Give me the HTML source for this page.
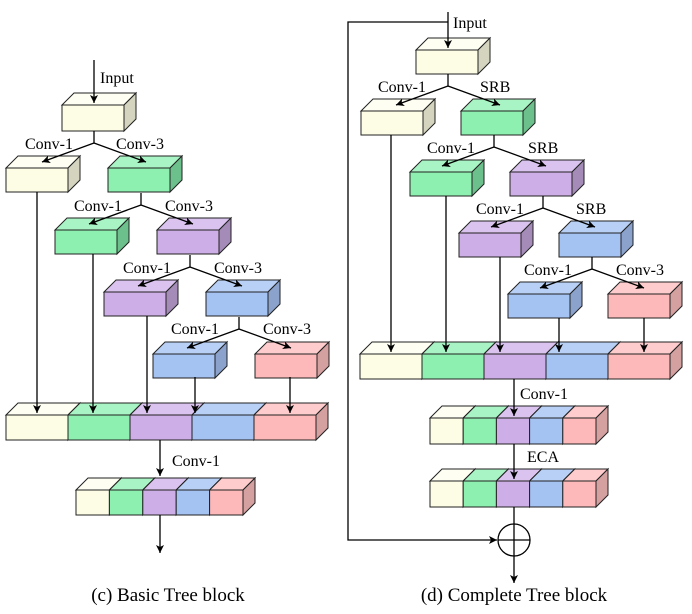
<!DOCTYPE html>
<html><head><meta charset="utf-8"><style>
html,body{margin:0;padding:0;background:#fff;}
svg{display:block;font-family:"Liberation Serif",serif;}
</style></head><body>
<svg id="s" width="692" height="614" viewBox="0 0 692 614" xmlns="http://www.w3.org/2000/svg">
<defs><marker id="a" markerWidth="10" markerHeight="10" refX="9" refY="5" orient="auto" markerUnits="userSpaceOnUse"><path d="M1,1 L9,5 L1,9 L3,5 Z" fill="#000"/></marker></defs>
<g id="boxes"></g>
<g id="lines" stroke="#000" stroke-width="1.3" fill="none"></g>
<g font-size="16" fill="#000">
<text x="100" y="83">Input</text>
<text x="25" y="149">Conv-1</text><text x="116" y="149">Conv-3</text>
<text x="74" y="211">Conv-1</text><text x="165" y="211">Conv-3</text>
<text x="123" y="273">Conv-1</text><text x="214" y="273">Conv-3</text>
<text x="171" y="334">Conv-1</text><text x="263" y="334">Conv-3</text>
<text x="172" y="466">Conv-1</text>
<text x="453" y="28">Input</text>
<text x="378" y="92">Conv-1</text><text x="480" y="92">SRB</text>
<text x="427" y="153">Conv-1</text><text x="528" y="153">SRB</text>
<text x="476" y="214">Conv-1</text><text x="576" y="214">SRB</text>
<text x="524" y="275">Conv-1</text><text x="616" y="275">Conv-3</text>
<text x="520" y="399">Conv-1</text>
<text x="527" y="462">ECA</text>
<text x="168" y="601" font-size="19" text-anchor="middle">(c) Basic Tree block</text>
<text x="514" y="601" font-size="19" text-anchor="middle">(d) Complete Tree block</text>
</g>
</svg>
<script>
var C={y:["#fdfde6","#fefef2","#d5d5bf"],g:["#8ef0b0","#a8f4c4","#6cc08c"],p:["#cdaee6","#dac3ee","#a58cb8"],b:["#a4c2f2","#b8d0f5","#8ba3cc"],r:["#fdb9b9","#fecccc","#d4a0a0"]};
var B=document.getElementById("boxes"),L=document.getElementById("lines"),h="",l="";
function box(x,y,w,hh,c,d){d=d||12;var k=C[c];
h+='<polygon points="'+x+','+y+' '+(x+d)+','+(y-d)+' '+(x+w+d)+','+(y-d)+' '+(x+w)+','+y+'" fill="'+k[1]+'" stroke="#222" stroke-width="1"/>';
h+='<polygon points="'+(x+w)+','+y+' '+(x+w+d)+','+(y-d)+' '+(x+w+d)+','+(y+hh-d)+' '+(x+w)+','+(y+hh)+'" fill="'+k[2]+'" stroke="#222" stroke-width="1"/>';
h+='<rect x="'+x+'" y="'+y+'" width="'+w+'" height="'+hh+'" fill="'+k[0]+'" stroke="#222" stroke-width="1"/>';}
function bar(x,y,sw,hh,d){var cs="ygpbr";for(var i=0;i<5;i++)box(x+i*sw,y,sw,hh,cs[i],d);}
function ln(p,ar){l+='<polyline points="'+p+'"'+(ar?' marker-end="url(#a)"':'')+'/>';}
function tree(sx,sy){
ln(sx+','+sy+' '+sx+','+(sy+12));
ln(sx+','+(sy+12)+' '+(sx-52)+','+(sy+31),1);
ln(sx+','+(sy+12)+' '+(sx+52)+','+(sy+31),1);}
// left
box(62,105,62,26,"y");ln("94,60 94,103",1);
var lv=[["y","g"],["g","p"],["p","b"],["b","r"]];
for(var i=0;i<4;i++){var y=168+i*62,x=6+i*49;box(x,y,62,24,lv[i][0]);box(x+102,y,62,24,lv[i][1]);
var sx=(i==0?94:6+(i-1)*49+102+33);tree(sx,y-37);}
bar(6,415,62,25);
ln("37,192 37,413",1);ln("93,254 93,413",1);ln("147,316 147,413",1);ln("195,377 195,413",1);ln("290,377 290,413",1);
ln("160,440 160,476",1);bar(76,490,33.4,25,12);ln("160,515 160,553",1);
// right
box(416,50,62,24,"y");ln("448,12 448,48",1);
var rv=[["y","g"],["g","p"],["p","b"],["b","r"]];
for(var i=0;i<4;i++){var y=111+i*61,x=361+i*49;box(x,y,62,24,rv[i][0]);box(x+100,y,62,24,rv[i][1]);
var sx=(i==0?448:361+(i-1)*49+100+33);tree(sx,y-37);}
bar(360,354,62,25);
ln("391,135 391,352",1);ln("446,196 446,352",1);ln("500,257 500,352",1);ln("559,318 559,352",1);ln("644,318 644,352",1);
ln("514,379 514,416",1);bar(430,418,33.2,26,12);
ln("514,444 514,479",1);bar(430,481,33.2,26,12);
ln("514,507 514,583",1);
ln("448,22 348,22 348,540 497,540",1);
l+='<circle cx="514" cy="540" r="16"/><line x1="498" y1="540" x2="530" y2="540"/>';
B.innerHTML=h;L.innerHTML=l;
</script>
</body></html>
